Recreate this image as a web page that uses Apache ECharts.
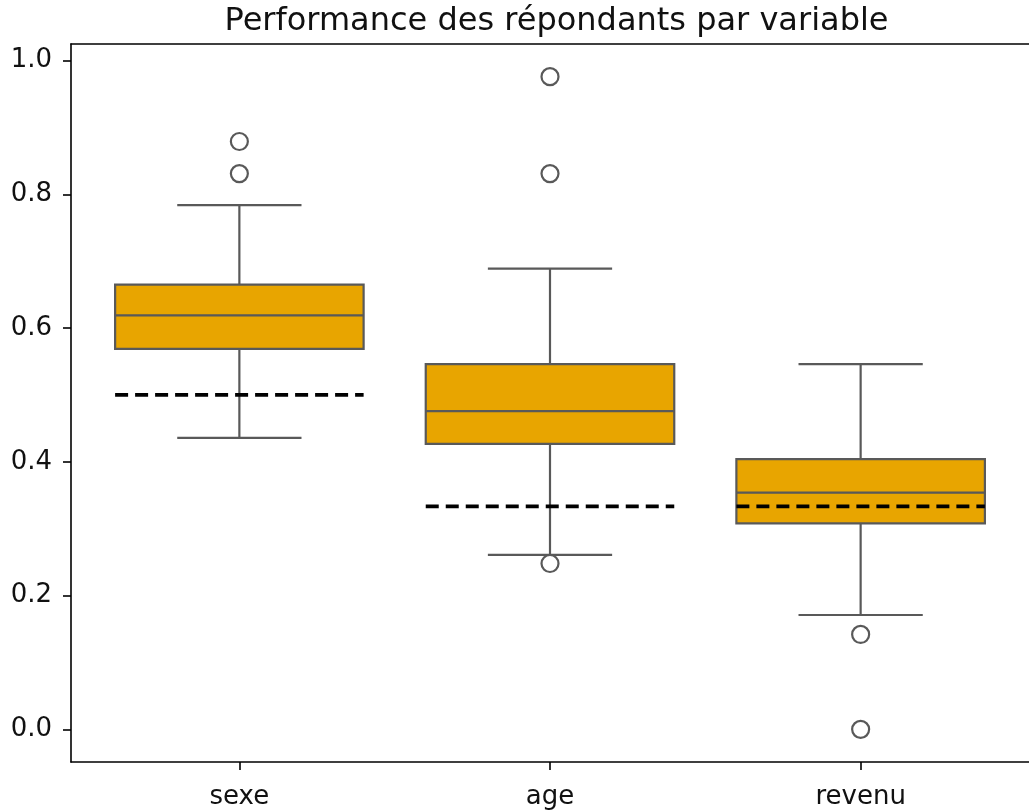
<!DOCTYPE html>
<html>
<head>
<meta charset="utf-8">
<script src="https://cdn.jsdelivr.net/npm/echarts@6/dist/echarts.min.js"></script>
<style>
  html, body { margin: 0; padding: 0; background: #fff; }
  #main { width: 1029px; height: 811px; }
</style>
</head>
<body>
<div id="main"></div>
<script>
var categories = ['sexe', 'age', 'revenu'];
var lowWhisker = [0.436, 0.261, 0.171];
var q1 = [0.569, 0.427, 0.308];
var median = [0.619, 0.476, 0.354];
var q3 = [0.665, 0.546, 0.404];
var highWhisker = [0.784, 0.689, 0.546];
// outliers: [category index, value]
var outliers = [[0, 0.879], [0, 0.831], [1, 0.976], [1, 0.831], [1, 0.248], [2, 0.142], [2, 0.0]];
// chance level per variable
var chance = [0.5, 0.3333, 0.3333];
var yTicks = [0, 0.2, 0.4, 0.6, 0.8, 1.0];

var boxColor = '#E8A500';
var lineColor = '#595959';
var font = 'DejaVu Sans';

var myChart = echarts.init(document.getElementById('main'), null, { renderer: 'canvas' });

var boxData = categories.map(function (c, i) {
    return [i, lowWhisker[i], q1[i], median[i], q3[i], highWhisker[i]];
});

function renderBox(params, api) {
    var x = api.value(0);
    var lo = api.coord([x, api.value(1)]);
    var b1 = api.coord([x - 0.4, api.value(2)]);
    var md = api.value(3);
    var b3 = api.coord([x + 0.4, api.value(4)]);
    var hi = api.coord([x, api.value(5)]);
    var capL = api.coord([x - 0.2, 0])[0];
    var capR = api.coord([x + 0.2, 0])[0];
    var mL = api.coord([x - 0.4, md]);
    var mR = api.coord([x + 0.4, md]);
    var ln = { stroke: lineColor, lineWidth: 2.2 };
    return {
        type: 'group',
        children: [
            { type: 'line', shape: { x1: lo[0], y1: lo[1], x2: lo[0], y2: b1[1] }, style: ln },
            { type: 'line', shape: { x1: hi[0], y1: b3[1], x2: hi[0], y2: hi[1] }, style: ln },
            { type: 'line', shape: { x1: capL, y1: lo[1], x2: capR, y2: lo[1] }, style: ln },
            { type: 'line', shape: { x1: capL, y1: hi[1], x2: capR, y2: hi[1] }, style: ln },
            {
                type: 'rect',
                shape: { x: b1[0], y: b3[1], width: b3[0] - b1[0], height: b1[1] - b3[1] },
                style: { fill: boxColor, stroke: lineColor, lineWidth: 2.2 }
            },
            { type: 'line', shape: { x1: mL[0], y1: mL[1], x2: mR[0], y2: mR[1] }, style: ln }
        ]
    };
}

var chanceSeries = chance.map(function (v, i) {
    return {
        type: 'line',
        data: [[i - 0.4, v], [i + 0.4, v]],
        symbol: 'none',
        silent: true,
        z: 3,
        lineStyle: { color: '#000', width: 3.8, type: [13, 7] }
    };
});

var spine = { show: true, onZero: false, lineStyle: { color: '#000', width: 1.6 } };

var option = {
    backgroundColor: '#fff',
    animation: false,
    title: {
        text: 'Performance des répondants par variable',
        left: 551.5,
        top: 1,
        textAlign: 'center',
        textStyle: { fontFamily: font, fontSize: 32, fontWeight: 'normal', color: '#111' }
    },
    grid: { left: 71, top: 44, bottom: 49, width: 961 },
    xAxis: [{
        type: 'value',
        min: -0.542,
        max: 2.542,
        splitLine: { show: false },
        axisLine: spine,
        axisTick: { show: true, length: 8, customValues: [0, 1, 2], lineStyle: { color: '#000', width: 1.6 } },
        axisLabel: {
            customValues: [0, 1, 2],
            margin: 22,
            fontFamily: font,
            fontSize: 26,
            color: '#111',
            formatter: function (v) { return categories[Math.round(v)]; }
        }
    }, {
        type: 'value',
        position: 'top',
        min: -0.542,
        max: 2.542,
        splitLine: { show: false },
        axisLine: spine,
        axisTick: { show: false },
        axisLabel: { show: false }
    }],
    yAxis: {
        type: 'value',
        min: -0.0488,
        max: 1.0248,
        splitLine: { show: false },
        axisLine: spine,
        axisTick: { show: true, length: 8, customValues: yTicks, lineStyle: { color: '#000', width: 1.6 } },
        axisLabel: {
            customValues: yTicks,
            margin: 19,
            fontFamily: font,
            fontSize: 26,
            color: '#111',
            formatter: function (v) { return v.toFixed(1); }
        }
    },
    series: [
        {
            type: 'custom',
            renderItem: renderBox,
            data: boxData,
            encode: { x: 0, y: [1, 2, 3, 4, 5] },
            z: 2
        }
    ].concat(chanceSeries).concat([
        {
            type: 'scatter',
            data: outliers,
            symbol: 'circle',
            symbolSize: 17,
            z: 4,
            itemStyle: { color: '#fff', borderColor: lineColor, borderWidth: 2.2, opacity: 1 }
        }
    ])
};

myChart.setOption(option);
</script>
</body>
</html>
